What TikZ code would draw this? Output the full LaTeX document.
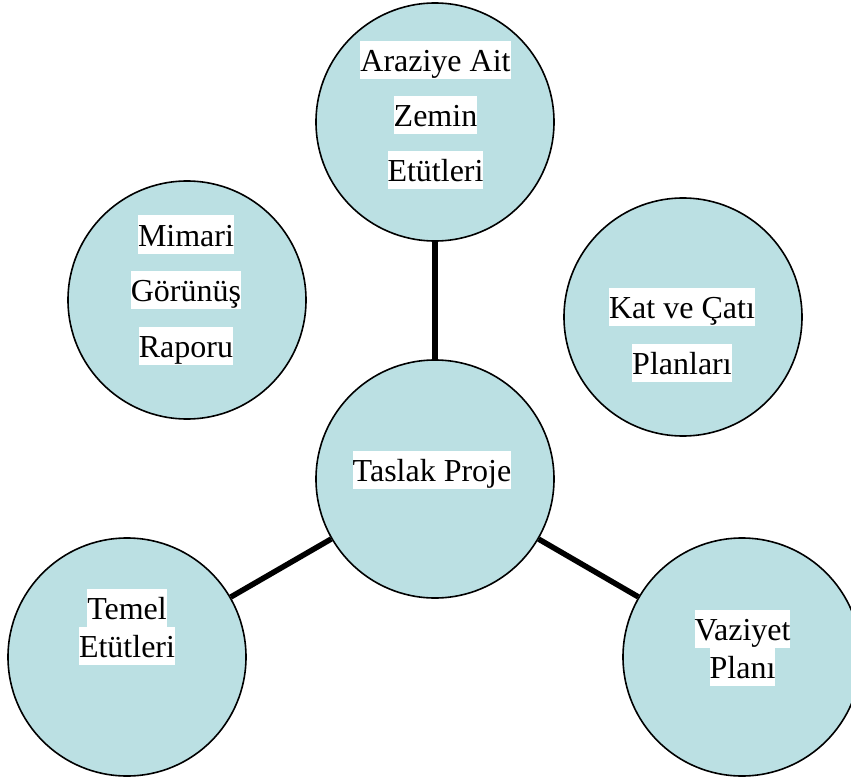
\documentclass[tikz,border=0pt]{standalone}
\usepackage{fontspec}
\setmainfont{Liberation Serif}
\usepackage{xcolor}
\usetikzlibrary{positioning}
\definecolor{bubble}{RGB}{187, 224, 227}

\begin{document}
\begin{tikzpicture}[x=1pt, y=-1pt,
        bubble/.style={circle, draw=black, fill=bubble, line width=1.6pt, minimum size=238pt, inner sep=0pt},
        tag/.style={fill=white, inner sep=0pt, font=\fontsize{32}{38}\selectfont, text height=30.7pt, text depth=7.3pt},
        link/.style={line width=5.5pt, draw=black}
    ]
        \useasboundingbox (0,0) rectangle (851,778);

        % Circles
        \node[bubble] (arazi) at (435,122) {};
        \node[bubble] (mimari) at (187,300) {};
        \node[bubble] (kat) at (683,317) {};
        \node[bubble] (taslak) at (435,479) {};
        \node[bubble] (temel) at (127,657) {};
        \node[bubble] (vaziyet) at (742,657) {};

        % Connectors
        \foreach \t in {arazi, temel, vaziyet} {
            \draw[link] (taslak) -- (\t);
        }

        % Labels
        \node[tag] (arazi1) at (435.5,60) {Araziye Ait};
        \node[tag] (arazi2) at (435.5,115) {Zemin};
        \node[tag] (arazi3) at (435.5,170) {Etütleri};

        \node[tag] (mimari1) at (186,234.5) {Mimari};
        \node[tag] (mimari2) at (186,290) {Görünüş};
        \node[tag] (mimari3) at (186,346) {Raporu};

        \node[tag] (kat1) at (682,306.5) {Kat ve Çatı};
        \node[tag] (kat2) at (682,363) {Planları};

        \node[tag] (taslak1) at (432,470) {Taslak Proje};

        \node[tag] (temel1) at (127,608) {Temel};
        \node[tag] (temel2) at (127,646) {Etütleri};

        \node[tag] (vaziyet1) at (742.5,629) {Vaziyet};
        \node[tag] (vaziyet2) at (742.5,667) {Planı};
    \end{tikzpicture}
\end{document}
